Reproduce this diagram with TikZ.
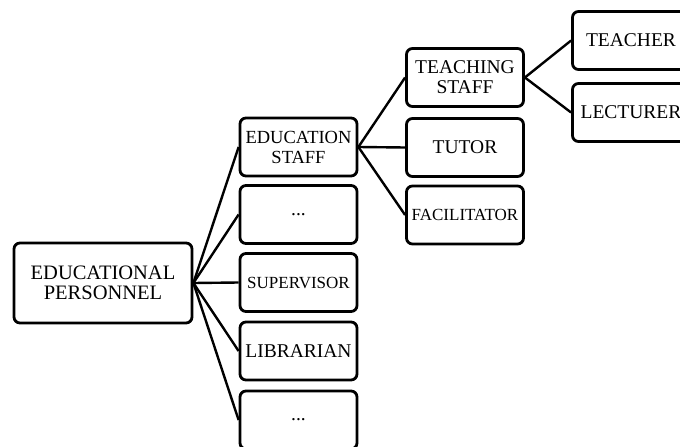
\documentclass[tikz,border=0pt]{standalone}
\usepackage{fontspec}
\setmainfont{Liberation Serif}
\usepackage{tikz}
\usetikzlibrary{positioning}

\begin{document}
\begin{tikzpicture}[x=1pt, y=-1pt,
  box/.style={draw, line width=2.8pt, rounded corners=6pt, align=center,
    inner sep=0pt, minimum width=117pt, minimum height=58pt,
    font=\fontsize{19.5}{20}\selectfont},
  link/.style={line width=2.4pt}]
  \useasboundingbox (0, 0) rectangle (680, 447);

  % Root
  \node[box, minimum width=178pt, minimum height=80pt,
    font=\fontsize{20.5}{20}\selectfont] (personnel) at (103, 283)
    {EDUCATIONAL\\PERSONNEL};

  % Second level
  \node[box, font=\fontsize{18.5}{20}\selectfont] (edustaff) at (298.5, 147) {EDUCATION\\STAFF};
  \node[box] (dotsa) at (298.5, 214.5) {...};
  \node[box, font=\fontsize{17}{20}\selectfont] (supervisor) at (298.5, 282.5) {SUPERVISOR};
  \node[box] (librarian) at (298.5, 351) {LIBRARIAN};
  \node[box] (dotsb) at (298.5, 420) {...};

  % Third level
  \node[box] (teachstaff) at (465, 77.5) {TEACHING\\STAFF};
  \node[box] (tutor) at (465, 147.5) {TUTOR};
  \node[box, font=\fontsize{17}{20}\selectfont] (facilitator) at (465, 215) {FACILITATOR};

  % Fourth level
  \node[box] (teacher) at (631, 40.5) {TEACHER};
  \node[box] (lecturer) at (631, 112.5) {LECTURER};

  % Connectors
  \foreach \child in {edustaff, dotsa, supervisor, librarian, dotsb}
    \draw[link] (personnel.east) -- (\child.west);
  \foreach \child in {teachstaff, tutor, facilitator}
    \draw[link] (edustaff.east) -- (\child.west);
  \foreach \child in {teacher, lecturer}
    \draw[link] (teachstaff.east) -- (\child.west);
\end{tikzpicture}
\end{document}
